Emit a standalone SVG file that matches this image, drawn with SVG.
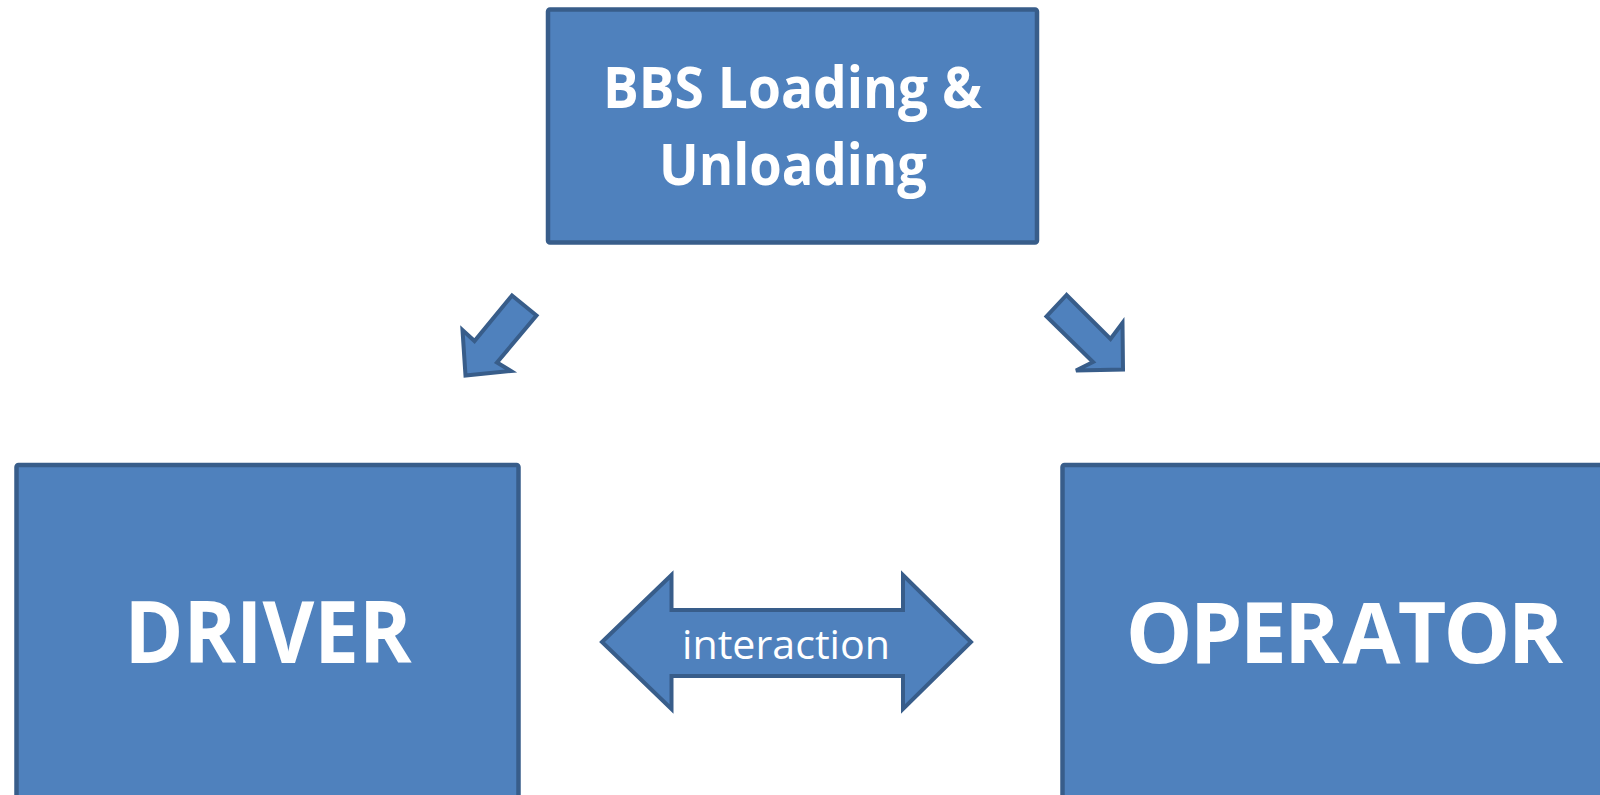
<svg xmlns="http://www.w3.org/2000/svg" width="1600" height="795" viewBox="0 0 1600 795">
  <style>
    .box { fill: #4F81BD; stroke: #385D8A; stroke-width: 4.5; }
    .arrow { fill: #4F81BD; stroke: #385D8A; stroke-width: 4; stroke-linejoin: miter; }
    .lbl { fill: #FFFFFF; font-family: "Open Sans", "Liberation Sans", sans-serif; text-anchor: middle; }
    .bold { font-weight: bold; }
  </style>
  <rect width="1600" height="795" fill="#FFFFFF"/>

  <!-- top process box -->
  <g id="node-bbs">
    <rect class="box" x="548" y="9.5" width="489" height="233" rx="2"/>
    <text class="lbl bold" x="792.5" y="108" font-size="58" textLength="379" lengthAdjust="spacingAndGlyphs">BBS Loading &amp;</text>
    <text class="lbl bold" x="793" y="185" font-size="58" textLength="268" lengthAdjust="spacingAndGlyphs">Unloading</text>
  </g>

  <!-- left role box -->
  <g id="node-driver">
    <rect class="box" x="16.5" y="465" width="502" height="345" rx="2"/>
    <text class="lbl bold" x="268" y="663" font-size="86" textLength="287" lengthAdjust="spacingAndGlyphs">DRIVER</text>
  </g>

  <!-- right role box -->
  <g id="node-operator">
    <rect class="box" x="1062.5" y="465" width="560" height="345" rx="2"/>
    <text class="lbl bold" x="1343" y="663" font-size="84" letter-spacing="-2.8">OPER<tspan dx="6">ATOR</tspan></text>
  </g>

  <!-- block arrows -->
  <g id="connectors">
    <polygon class="arrow" points="512,295.5 536.5,315.5 497,362.5 511,371 465.5,375.5 462.5,330 474.5,341"/>
    <polygon class="arrow" points="1066.5,295 1046.5,316.5 1093,362 1076,370.5 1123,369.5 1122.5,323 1110.5,339"/>
    <g id="edge-interaction">
      <polygon class="arrow" points="602,642 671.5,575 671.5,610 903,610 903,575 971,642 903,709 903,676 671.5,676 671.5,709"/>
      <text class="lbl" x="786" y="659" font-size="41" textLength="208" lengthAdjust="spacingAndGlyphs">interaction</text>
    </g>
  </g>
</svg>
